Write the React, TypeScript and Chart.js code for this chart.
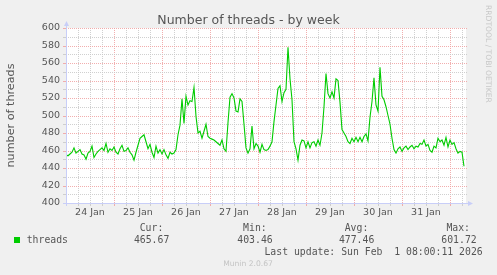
import React, { useEffect, useRef } from 'react';
import { Chart, registerables } from 'chart.js';

Chart.register(...registerables);

// Day labels (centred at noon of each day); x axis is hours since 24 Jan 00:00
const dayLabels = ['24 Jan', '25 Jan', '26 Jan', '27 Jan', '28 Jan', '29 Jan', '30 Jan', '31 Jan'];

// Hourly number of threads
const threads = [
  455, 454, 456, 458, 463, 457, 459, 461, 456, 455,
  450, 457, 459, 465, 452, 456, 459, 461, 463, 460,
  468, 458, 462, 460, 464, 458, 456, 462, 466, 459,
  460, 463, 458, 455, 449, 458, 466, 474, 476, 478,
  470, 462, 467, 458, 452, 465, 457, 461, 456, 461,
  455, 451, 458, 456, 457, 461, 478, 489, 519, 491,
  522, 512, 517, 516, 532, 499, 480, 482, 474, 482,
  490, 476, 474, 473, 472, 470, 468, 466, 472, 462,
  459, 492, 521, 525, 520, 505, 504, 519, 516, 490,
  463, 457, 462, 488, 462, 468, 465, 458, 467, 461,
  460, 461, 465, 470, 493, 512, 531, 534, 516, 526,
  530, 578, 542, 518, 470, 462, 449, 466, 472, 471,
  463, 470, 463, 469, 470, 465, 472, 466, 480, 510,
  548, 525, 520, 527, 520, 542, 540, 515, 484, 480,
  476, 470, 468, 474, 470, 475, 470, 475, 470, 476,
  479, 471, 498, 516, 543, 512, 505, 555, 522, 518,
  510, 500, 490, 474, 461, 457, 462, 464, 459, 463,
  465, 461, 464, 466, 462, 465, 464, 468, 467, 472,
  465, 467, 460, 458, 465, 463, 474, 470, 472, 466,
  475, 464, 472, 467, 469, 462, 457, 459, 458, 442,
];
const hours = threads.map((_, i) => i);

const xMin = 0;
const xMax = 200;
const yMin = 400;
const yMax = 600;

const legendHeaders = ['Cur:', 'Min:', 'Avg:', 'Max:'];
const legendValues = ['465.67', '403.46', '477.46', '601.72'];
const seriesName = 'threads';
const titleText = 'Number of threads - by week';
const yAxisTitle = 'number of threads';
const lastUpdate = 'Last update: Sun Feb  1 08:00:11 2026';
const footerText = 'Munin 2.0.67';
const sideText = 'RRDTOOL / TOBI OETIKER';

const RED = 'rgba(240,160,160,0.85)';
const GRAY = 'rgba(200,200,200,0.85)';
const AXIS = '#c8cef8';
const MONO = '"DejaVu Sans Mono", monospace';
const SANS = '"DejaVu Sans", sans-serif';

const decor = {
  id: 'muninDecor',
  beforeDraw(chart: any) {
    const { ctx, chartArea: a, width, height } = chart;
    ctx.save();
    ctx.fillStyle = '#f0f0f0';
    ctx.fillRect(0, 0, width, height);
    ctx.fillStyle = '#ffffff';
    ctx.fillRect(a.left, a.top, a.right - a.left, a.bottom - a.top);
    ctx.restore();
  },
  beforeDatasetsDraw(chart: any) {
    const { ctx, chartArea: a } = chart;
    const xs = chart.scales.x;
    const ys = chart.scales.y;
    ctx.save();
    ctx.lineWidth = 1;
    // vertical grid every 6 h, red at day boundaries
    for (let h = xMin; h <= xMax; h += 6) {
      const px = Math.round(xs.getPixelForValue(h)) + 0.5;
      const col = h % 24 === 0 ? RED : GRAY;
      ctx.strokeStyle = col;
      ctx.setLineDash([1, 1]);
      ctx.beginPath();
      ctx.moveTo(px, a.top);
      ctx.lineTo(px, a.bottom);
      ctx.stroke();
      ctx.setLineDash([]);
      ctx.beginPath();
      ctx.moveTo(px, a.bottom);
      ctx.lineTo(px, a.bottom + 3);
      ctx.stroke();
    }
    // horizontal grid every 10, red every 20
    for (let v = yMin; v <= yMax; v += 10) {
      const py = Math.round(ys.getPixelForValue(v)) + 0.5;
      const col = v % 20 === 0 ? RED : GRAY;
      ctx.strokeStyle = col;
      ctx.setLineDash([1, 1]);
      ctx.beginPath();
      ctx.moveTo(a.left, py);
      ctx.lineTo(a.right + 2, py);
      ctx.stroke();
      ctx.setLineDash([]);
      ctx.beginPath();
      ctx.moveTo(a.left - 3, py);
      ctx.lineTo(a.left, py);
      ctx.stroke();
    }
    ctx.restore();
  },
  afterDraw(chart: any) {
    const { ctx, chartArea: a } = chart;
    ctx.save();
    // axes
    ctx.strokeStyle = AXIS;
    ctx.fillStyle = AXIS;
    ctx.lineWidth = 1;
    const lx = a.left + 0.5;
    const by = a.bottom + 0.5;
    ctx.beginPath();
    ctx.moveTo(lx, a.bottom + 3);
    ctx.lineTo(lx, a.top - 2);
    ctx.stroke();
    ctx.beginPath();
    ctx.moveTo(a.left - 3, by);
    ctx.lineTo(a.right + 2, by);
    ctx.stroke();
    ctx.beginPath();
    ctx.moveTo(lx, a.top - 7);
    ctx.lineTo(lx - 2.5, a.top - 2);
    ctx.lineTo(lx + 2.5, a.top - 2);
    ctx.closePath();
    ctx.fill();
    ctx.beginPath();
    ctx.moveTo(a.right + 7, by);
    ctx.lineTo(a.right + 2, by - 2.5);
    ctx.lineTo(a.right + 2, by + 2.5);
    ctx.closePath();
    ctx.fill();

    // title
    ctx.fillStyle = '#555555';
    ctx.font = `12.5px ${SANS}`;
    ctx.textAlign = 'center';
    ctx.textBaseline = 'alphabetic';
    ctx.fillText(titleText, 248.5, 24);

    // y axis title
    ctx.save();
    ctx.translate(11.5, 115.5);
    ctx.rotate(-Math.PI / 2);
    ctx.font = `11.2px ${SANS}`;
    ctx.textAlign = 'center';
    ctx.textBaseline = 'middle';
    ctx.fillText(yAxisTitle, 0, 0);
    ctx.restore();

    // side text
    ctx.save();
    ctx.translate(487.5, 5);
    ctx.rotate(Math.PI / 2);
    ctx.font = `7.6px ${SANS}`;
    ctx.fillStyle = '#c8c8c8';
    ctx.textAlign = 'left';
    ctx.textBaseline = 'middle';
    ctx.fillText(sideText, 0, 0);
    ctx.restore();

    // legend
    ctx.fillStyle = '#00cc00';
    ctx.fillRect(14, 237, 6, 6);
    ctx.fillStyle = '#555555';
    ctx.font = `9.8px ${MONO}`;
    ctx.textBaseline = 'middle';
    ctx.textAlign = 'left';
    ctx.fillText(seriesName, 26.7, 240);
    const headerRight = [163.3, 266.7, 368.3, 470];
    const valueRight = [169.3, 272.7, 374.3, 476.7];
    ctx.textAlign = 'right';
    legendHeaders.forEach((t, i) => ctx.fillText(t, headerRight[i], 228));
    legendValues.forEach((t, i) => ctx.fillText(t, valueRight[i], 240));
    ctx.fillText(lastUpdate, 482.7, 252);

    ctx.font = `7.6px ${SANS}`;
    ctx.fillStyle = '#c4c4c4';
    ctx.textAlign = 'center';
    ctx.fillText(footerText, 248, 264);
    ctx.restore();
  },
};

export default function App() {
  const ref = useRef<HTMLCanvasElement | null>(null);

  useEffect(() => {
    if (!ref.current) return;
    const chart = new Chart(ref.current, {
      type: 'line',
      data: {
        datasets: [
          {
            label: seriesName,
            data: hours.map((h, i) => ({ x: h, y: threads[i] })),
            borderColor: '#00cc00',
            borderWidth: 1.1,
            pointRadius: 0,
            tension: 0,
            fill: false,
          },
        ],
      },
      options: {
        animation: false,
        responsive: false,
        events: [],
        layout: { padding: { top: 28, right: 31, left: 0, bottom: 0 } },
        plugins: {
          legend: { display: false },
          tooltip: { enabled: false },
          title: { display: false },
        },
        scales: {
          x: {
            type: 'linear',
            min: xMin,
            max: xMax,
            afterFit: (s: any) => {
              s.height = 72;
            },
            afterBuildTicks: (s: any) => {
              s.ticks = dayLabels.map((_, i) => ({ value: 12 + 24 * i }));
            },
            grid: { display: false, drawTicks: false },
            border: { display: false },
            ticks: {
              autoSkip: false,
              maxRotation: 0,
              padding: 4,
              color: '#555555',
              font: { family: 'DejaVu Sans', size: 9.5 },
              callback: (v: any) => dayLabels[Math.round((Number(v) - 12) / 24)] ?? '',
            },
          },
          y: {
            type: 'linear',
            min: yMin,
            max: yMax,
            afterFit: (s: any) => {
              s.width = 66;
            },
            grid: { display: false, drawTicks: false },
            border: { display: false },
            ticks: {
              stepSize: 20,
              autoSkip: false,
              padding: 6,
              color: '#555555',
              font: { family: 'DejaVu Sans', size: 9.5 },
            },
          },
        },
      },
      plugins: [decor],
    });
    return () => chart.destroy();
  }, []);

  return (
    <canvas
      ref={ref}
      width={497}
      height={275}
      style={{ position: 'absolute', left: 0, top: 0, width: 497, height: 275 }}
    />
  );
}
